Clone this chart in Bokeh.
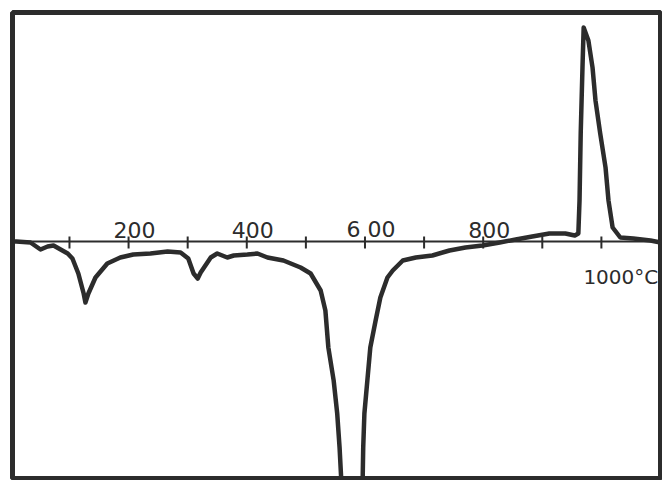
from bokeh.plotting import figure
from bokeh.models import Range1d, ColumnDataSource
from bokeh.core.properties import value
from bokeh.embed import file_html
from bokeh.resources import INLINE

# DTA curve: temperature (°C) vs. thermal deflection (arbitrary units, + exo / - endo)
temperature = [4, 10, 34, 51, 63, 73, 97, 105, 115, 124, 127, 132, 144, 164, 186, 208,
               237, 266, 288, 301, 310, 317, 322, 339, 350, 367, 378, 401, 418, 435,
               462, 491, 508, 525, 533, 538, 547, 553, 557, 560, 568, 577, 586, 596,
               597, 599, 604, 609, 618, 626, 638, 647, 664, 686, 714, 743, 770, 799,
               828, 855, 883, 912, 939, 955, 961, 963, 965, 968, 970, 978, 985, 990,
               998, 1007, 1012, 1019, 1032, 1054, 1083, 1100]
deflection = [0, 0, -1, -8, -5, -4, -12, -17, -32, -52, -61, -52, -36, -22, -16, -13,
              -12, -10, -11, -17, -32, -37, -31, -16, -12, -16, -14, -13, -12, -16,
              -19, -26, -32, -49, -69, -106, -139, -172, -206, -240, -290, -320, -290, -240,
              -206, -172, -139, -106, -79, -56, -36, -29, -19, -16, -14, -9, -6, -4,
              -1, 2, 5, 8, 8, 6, 8, 41, 108, 174, 214, 201, 174, 141,
              108, 74, 41, 14, 4, 3, 1, -1]

tick_values = [100, 200, 300, 400, 500, 600, 700, 800, 900, 1000]
label_values = [200, 400, 600, 800, 1000]
label_texts = ["200", "400", "6 00", "800", "1000°C"]

INK = "#2c2c2c"

p = figure(width=662, height=480, output_backend="svg", toolbar_location=None,
           x_range=Range1d(3.6, 1100), y_range=Range1d(-237, 229),
           min_border_left=12, min_border_top=12, min_border_right=2, min_border_bottom=2)
p.xaxis.visible = False
p.yaxis.visible = False
p.xgrid.visible = False
p.ygrid.visible = False
p.background_fill_color = "white"
p.border_fill_color = "white"
p.outline_line_color = INK
p.outline_line_width = 5

# baseline (temperature axis)
p.segment(x0=[3.6], y0=[0], x1=[1100], y1=[0], line_color=INK, line_width=2)
# ticks crossing the baseline
p.segment(x0=tick_values, y0=[-7] * len(tick_values), x1=tick_values, y1=[5] * len(tick_values),
          line_color=INK, line_width=2)

# labels
src_up = ColumnDataSource(dict(x=label_values[:4], t=label_texts[:4]))
p.text(x="x", y=0, text="t", source=src_up, text_font=value("DejaVu Sans"),
       text_font_size="22px", text_color=INK, text_align="center",
       text_baseline="alphabetic", x_offset=6, y_offset=-12)
src_dn = ColumnDataSource(dict(x=label_values[4:], t=label_texts[4:]))
p.text(x="x", y=0, text="t", source=src_dn, text_font=value("DejaVu Sans"),
       text_font_size="20px", text_color=INK, text_align="left",
       text_baseline="alphabetic", x_offset=-18, y_offset=35)

# DTA curve
p.line(temperature, deflection, line_color=INK, line_width=4.5, line_join="round", line_cap="round")

open("out.html", "w").write(file_html(p, INLINE))
